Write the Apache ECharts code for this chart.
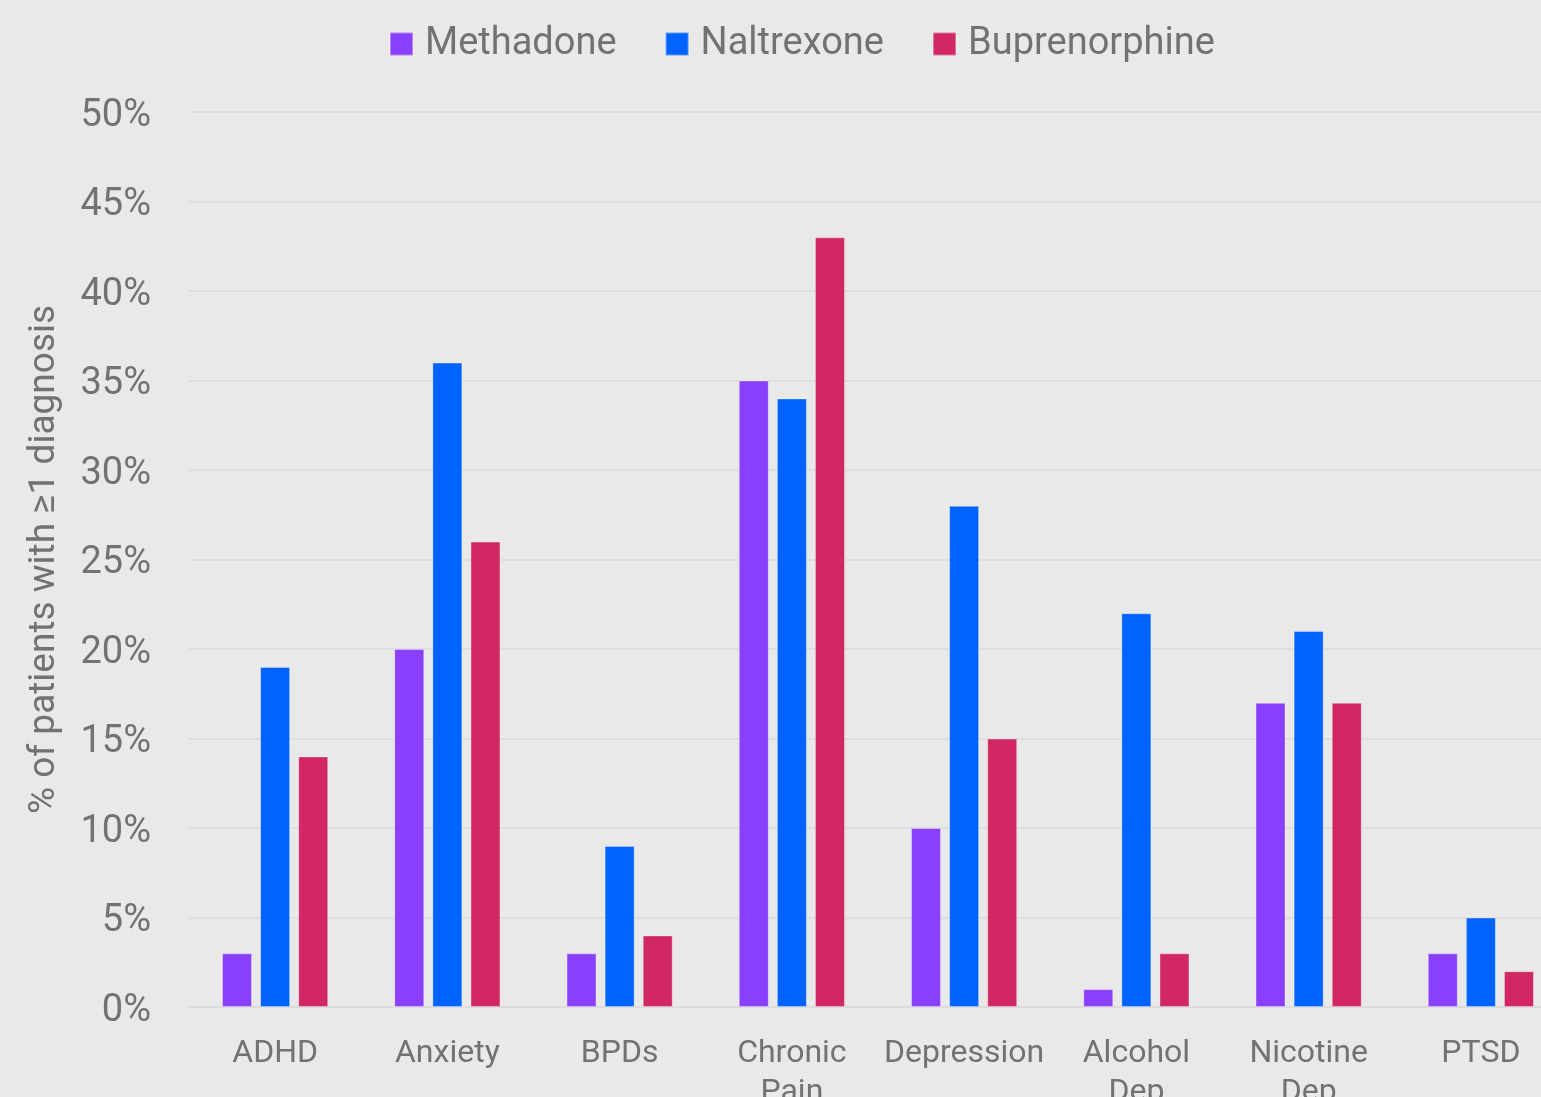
<!DOCTYPE html>
<html>
<head>
<meta charset="utf-8">
<script src="https://cdn.jsdelivr.net/npm/echarts@6/dist/echarts.min.js"></script>
<style>
html,body{margin:0;padding:0;background:#e9e9e9;}
#c{width:1541px;height:1097px;}
</style>
</head>
<body>
<div id="c"></div>
<script>
const categories = ['ADHD', 'Anxiety', 'BPDs', 'Chronic Pain', 'Depression', 'Alcohol Dep', 'Nicotine Dep', 'PTSD'];
const methadone = [3, 20, 3, 35, 10, 1, 17, 3];
const naltrexone = [19, 36, 9, 34, 28, 22, 21, 5];
const buprenorphine = [14, 26, 4, 43, 15, 3, 17, 2];
const seriesNames = ['Methadone', 'Naltrexone', 'Buprenorphine'];
const colors = ['#8a3ffc', '#0062ff', '#d12765'];
const yTitle = '% of patients with \u22651 diagnosis';

const font = 'Roboto';
const textColor = '#727272';
const chart = echarts.init(document.getElementById('c'));
const data = [methadone, naltrexone, buprenorphine];
chart.setOption({
  backgroundColor: '#e9e9e9',
  color: colors,
  textStyle: { fontFamily: font },
  legend: {
    top: 20,
    left: 384,
    itemWidth: 23,
    itemHeight: 23,
    itemGap: 48,
    icon: 'rect',
    textStyle: { fontFamily: font, fontSize: 38, color: textColor, padding: [0, 0, 0, 7] },
    data: seriesNames
  },
  grid: { left: 189, right: -26, top: 112, bottom: 90, containLabel: false, outerBoundsMode: 'none' },
  xAxis: {
    type: 'category',
    data: categories,
    axisLine: { show: true, lineStyle: { color: '#dcdcdc', width: 2 } },
    axisTick: { show: false },
    axisLabel: {
      fontFamily: font, fontSize: 32, color: textColor, margin: 27, lineHeight: 39,
      interval: 0,
      formatter: v => v.replace(' ', '\n')
    }
  },
  yAxis: {
    type: 'value',
    min: 0, max: 50, interval: 5,
    name: yTitle,
    nameLocation: 'middle',
    nameGap: 126,
    nameTextStyle: { fontFamily: font, fontSize: 37, color: textColor },
    axisLine: { show: false },
    axisTick: { show: false },
    splitLine: { lineStyle: { color: '#dedede', width: 2 } },
    axisLabel: {
      fontFamily: font, fontSize: 38, color: textColor, margin: 38,
      formatter: v => '{a|' + v + '%}',
      rich: { a: { fontFamily: font, fontSize: 38, color: textColor, padding: [8, 0, 0, 0] } }
    }
  },
  series: seriesNames.map((n, i) => ({
    name: n,
    type: 'bar',
    data: data[i],
    barWidth: 30,
    barGap: '27%',
    itemStyle: { color: colors[i], borderColor: 'rgba(255,255,255,0.35)', borderWidth: 1 }
  }))
});
</script>
</body>
</html>
